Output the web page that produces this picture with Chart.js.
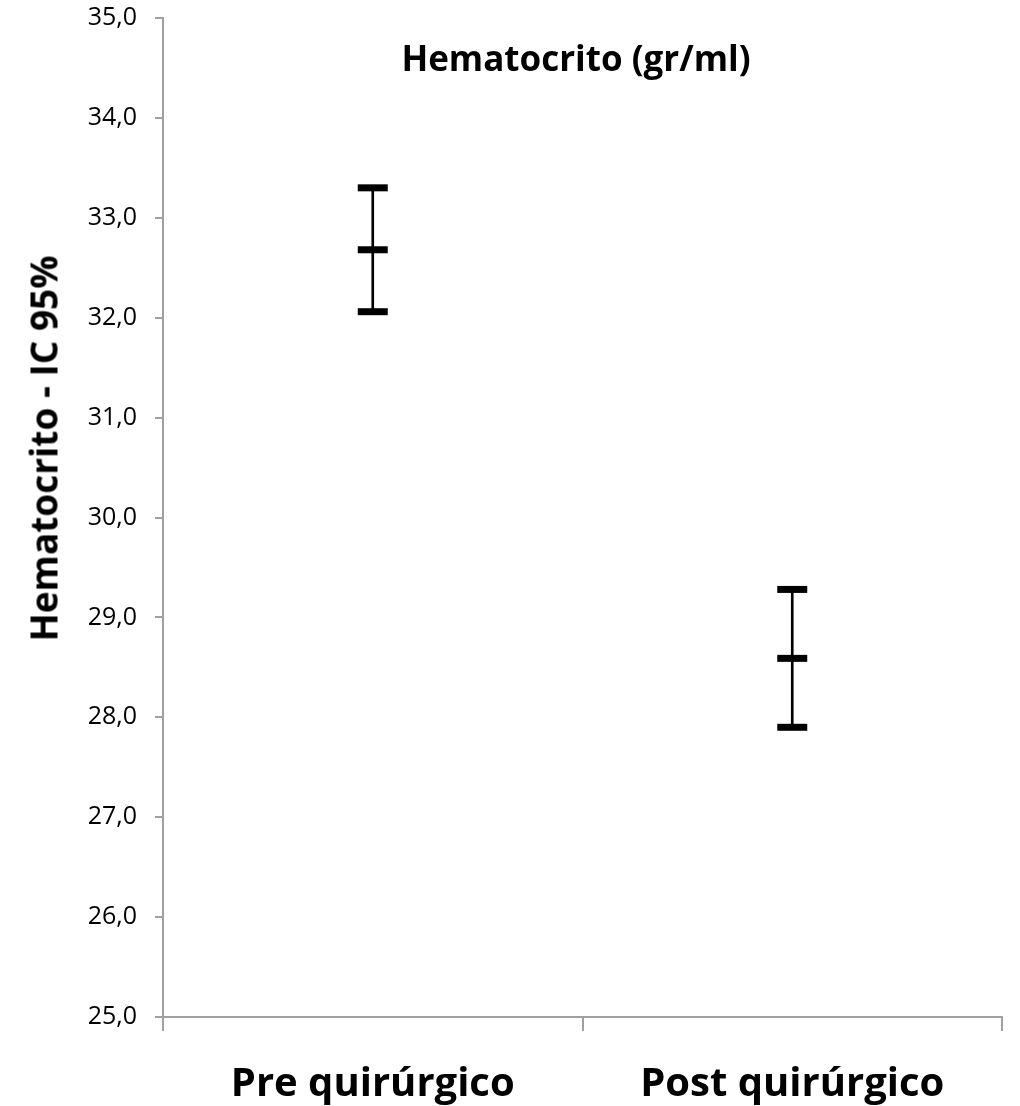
<!DOCTYPE html>
<html>
<head>
<meta charset="utf-8">
<script src="https://cdn.jsdelivr.net/npm/chart.js@4"></script>
<style>
  body { margin: 0; background: #fff; }
  #wrap { position: relative; width: 1020px; height: 1106px; overflow: hidden; }
  #chart { position: absolute; left: 0; top: -15px; }
  #title {
    position: absolute; left: 157px; width: 838px; top: 34px; line-height: 48px;
    text-align: center; font: bold 35px "Open Sans", sans-serif; color: #000;
  }
  #ytitle {
    position: absolute; left: -157px; top: 423px; width: 400px; line-height: 40px;
    text-align: center; font: bold 37px "Open Sans", sans-serif; color: #000;
    transform: rotate(-90deg);
  }
</style>
</head>
<body>
<div id="wrap">
  <canvas id="chart" width="1024" height="1121"></canvas>
  <div id="title">Hematocrito (gr/ml)</div>
  <div id="ytitle">Hematocrito - IC 95%</div>
</div>
<script>
// Data
const categories = ["Pre quirúrgico", "Post quirúrgico"];
const upper = [33.30, 29.28];
const mean = [32.68, 28.59];
const lower = [32.06, 27.90];

const ctx = document.getElementById('chart').getContext('2d');

function capSet(label, data) {
    return {
        type: 'line',
        label: label,
        data: data,
        showLine: false,
        pointStyle: 'line',
        pointRadius: 15,
        pointHoverRadius: 15,
        pointBorderWidth: 7,
        borderColor: '#000',
        backgroundColor: '#000'
    };
}

new Chart(ctx, {
    type: 'bar',
    data: {
        labels: categories,
        datasets: [
            {
                label: 'IC 95%',
                data: categories.map((c, i) => [lower[i], upper[i]]),
                backgroundColor: '#000',
                barThickness: 2,
                borderSkipped: false
            },
            capSet('Superior', upper),
            capSet('Media', mean),
            capSet('Inferior', lower)
        ]
    },
    options: {
        responsive: false,
        animation: false,
        layout: { padding: { top: 4, right: 15, left: 0, bottom: 0 } },
        plugins: { legend: { display: false }, tooltip: { enabled: false } },
        scales: {
            x: {
                offset: true,
                grid: {
                    offset: true,
                    drawOnChartArea: false,
                    color: '#a0a0a0',
                    lineWidth: 2,
                    tickLength: 14
                },
                border: { color: '#a0a0a0', width: 2 },
                ticks: {
                    color: '#000',
                    padding: 30,
                    font: { family: 'Open Sans', size: 40, weight: 'bold' }
                },
                afterFit: s => { s.height = 89; }
            },
            y: {
                min: 25,
                max: 35,
                grid: {
                    drawOnChartArea: false,
                    color: '#a0a0a0',
                    lineWidth: 2,
                    tickLength: 8
                },
                border: { color: '#a0a0a0', width: 2 },
                ticks: {
                    stepSize: 1,
                    color: '#000',
                    padding: 18,
                    font: { family: 'Open Sans', size: 25 },
                    callback: v => v.toFixed(1).replace('.', ',')
                },
                afterFit: s => { s.width = 163; }
            }
        }
    }
});
</script>
</body>
</html>
